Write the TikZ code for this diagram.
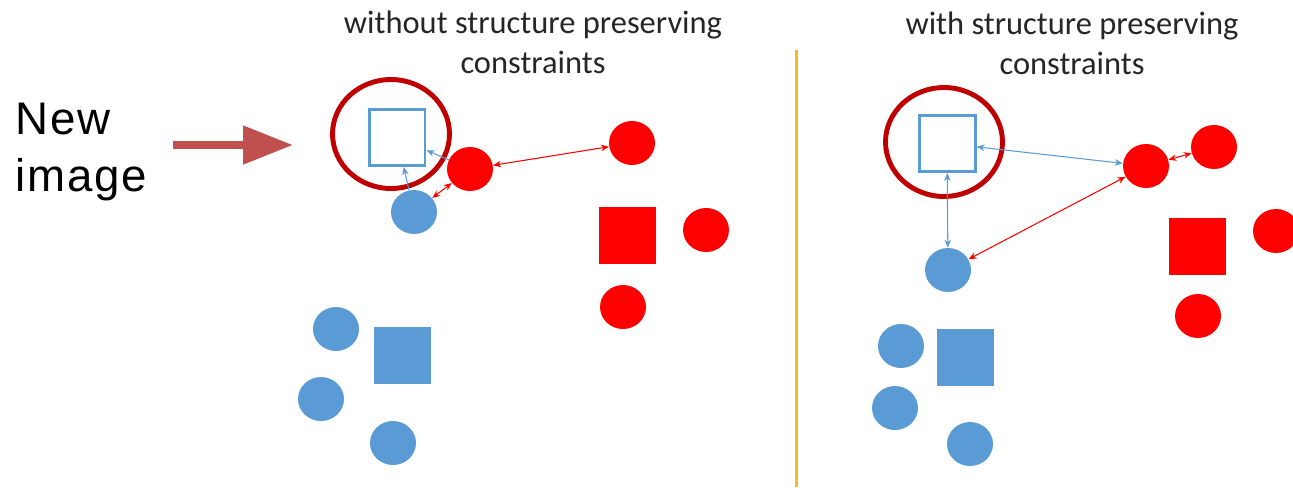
\documentclass[tikz,border=0pt]{standalone}
\usepackage{fontspec}
\setmainfont{Carlito}
\newfontfamily\labelfont[LetterSpace=4]{Liberation Sans}
\usetikzlibrary{arrows.meta,shapes.geometric}

\definecolor{ptblue}{RGB}{91,155,213}
\definecolor{ptred}{RGB}{255,0,0}
\definecolor{ringred}{RGB}{192,0,0}
\definecolor{pointer}{RGB}{192,80,77}
\definecolor{divider}{RGB}{240,190,40}

\begin{document}
\begin{tikzpicture}[x=0.02cm, y=-0.02cm,
  title/.style={font=\fontsize{18.5pt}{22.7pt}\selectfont, align=center, text=black!85},
  dot/.style={ellipse, inner sep=0pt, minimum width=0.92cm, minimum height=0.88cm},
  blk/.style={rectangle, inner sep=0pt, minimum size=1.14cm},
  query/.style={rectangle, draw=ptblue, line width=1.7pt, fill=white, inner sep=0pt, minimum size=1.12cm},
  ring/.style={ellipse, draw=ringred, line width=2.8pt, inner sep=0pt, minimum width=2.34cm, minimum height=2.18cm},
  rlink/.style={{Stealth[length=1.6mm,width=1.3mm]}-{Stealth[length=1.6mm,width=1.3mm]}, ptred, line width=0.6pt},
  blink/.style={{Stealth[length=1.6mm,width=1.3mm]}-{Stealth[length=1.6mm,width=1.3mm]}, ptblue, line width=0.6pt},
  bto/.style={-{Stealth[length=1.6mm,width=1.3mm]}, ptblue, line width=0.6pt}]
\useasboundingbox[fill=white] (0,0) rectangle (1293,487);

% headings and the divider
\node[title] (tleft) at (533,42) {without structure preserving\\constraints};
\node[title] (tright) at (1072,43) {with structure preserving\\constraints};
\coordinate (divtop) at (796,50);
\coordinate (divbot) at (796,487);
\draw[divider, line width=1.7pt] (divtop) -- (divbot);

% pointer to the new sample
\node[font=\labelfont\fontsize{26pt}{32.3pt}\selectfont, align=left, inner sep=0pt, anchor=north west] (newimg) at (15,103) {New\\image};
\coordinate (ptail) at (173,145);
\coordinate (phead) at (293,145);
\draw[pointer, line width=0.16cm, -{Triangle[length=1cm,width=0.74cm]}] (ptail) -- (phead);

% left: plain embedding
\node[blk, fill=ptblue] (lbsq) at (402.5,355) {};
\node[dot, fill=ptblue] (lb1) at (336,329) {};
\node[dot, fill=ptblue] (lb2) at (321,399) {};
\node[dot, fill=ptblue] (lb3) at (393,443) {};
\node[dot, fill=ptblue] (lbnear) at (414,212) {};
\node[blk, fill=ptred] (lrsq) at (627.5,235) {};
\node[dot, fill=ptred] (lr1) at (632,143) {};
\node[dot, fill=ptred] (lr2) at (706,230) {};
\node[dot, fill=ptred] (lr3) at (623,307) {};
\node[dot, fill=ptred] (lrnear) at (470,169) {};
\node[query] (lq) at (397,137.5) {};
\node[ring] (lring) at (391,134) {};
\draw[rlink] (lrnear) -- (lr1);
\draw[rlink] (lrnear) -- (lbnear);
\draw[bto] (lrnear) -- (lq);
\draw[bto] (lbnear) -- (lq);

% right: structure kept
\node[blk, fill=ptblue] (rbsq) at (965.5,357.5) {};
\node[dot, fill=ptblue] (rb1) at (901,346) {};
\node[dot, fill=ptblue] (rb2) at (895,408) {};
\node[dot, fill=ptblue] (rb3) at (970,444) {};
\node[dot, fill=ptblue] (rbnear) at (948,270) {};
\node[blk, fill=ptred] (rrsq) at (1197.5,246.5) {};
\node[dot, fill=ptred] (rr1) at (1214,147) {};
\node[dot, fill=ptred] (rr2) at (1276,231) {};
\node[dot, fill=ptred] (rr3) at (1198,316) {};
\node[dot, fill=ptred] (rrnear) at (1146,166) {};
\node[query] (rq) at (947,143.5) {};
\node[ring] (rring) at (944,142) {};
\draw[rlink] (rrnear) -- (rr1);
\draw[rlink] (rrnear) -- (rbnear);
\draw[blink] (rq) -- (rrnear);
\draw[blink] (rq) -- (rbnear);
\end{tikzpicture}
\end{document}
